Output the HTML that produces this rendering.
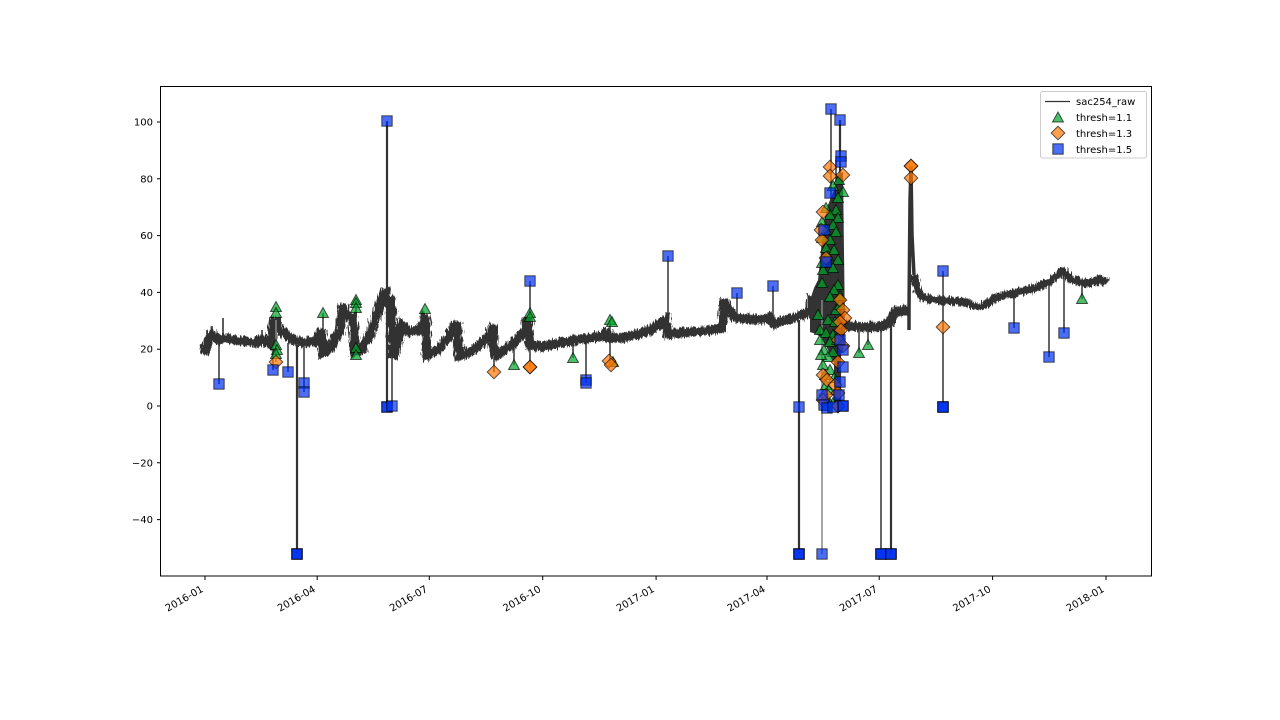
<!DOCTYPE html>
<html>
<head>
<meta charset="utf-8">
<style>
html,body{margin:0;padding:0;background:#fff;}
svg{display:block;}
text{font-family:"DejaVu Sans","Liberation Sans",sans-serif;font-size:10px;fill:#000;}
</style>
</head>
<body>
<svg width="1280" height="720" viewBox="0 0 1280 720" xmlns="http://www.w3.org/2000/svg">
<defs>
<filter id="n" filterUnits="userSpaceOnUse" x="150" y="80" width="1000" height="500">
<feTurbulence type="fractalNoise" baseFrequency="0.7 0.12" numOctaves="2" seed="3" result="t"/>
<feDisplacementMap in="SourceGraphic" in2="t" scale="8" xChannelSelector="R" yChannelSelector="G"/>
</filter>
<path id="t" d="M0,-5.5L-5.5,4.5L5.5,4.5Z" fill="#00a528" fill-opacity="0.7" stroke="#000" stroke-opacity="0.65" stroke-width="1"/>
<path id="d" d="M0,-6.8L6.8,0L0,6.8L-6.8,0Z" fill="#ff7805" fill-opacity="0.7" stroke="#000" stroke-opacity="0.65" stroke-width="1"/>
<rect id="s" x="-5.2" y="-5.2" width="10.4" height="10.4" fill="#0031f1" fill-opacity="0.7" stroke="#000" stroke-opacity="0.65" stroke-width="1"/>
</defs>
<rect width="1280" height="720" fill="#fff"/>

<!-- raw line -->
<g fill="none" stroke="#333" stroke-linejoin="miter" stroke-miterlimit="2" stroke-linecap="butt" filter="url(#n)">
<path stroke-width="9.5" d="M205,355 L207,343 L212,334 L218,340 L223,338 L225,338 L240,341 L255,343 L262,340 L270,344 L272,340 L273,322 L275,319 L280,330 L290,338 L300,342 L315,342 L322,330 L323,352 L330,348 L340,330 L343,305 L345,314 L353,318 L355,352 L362,350 L370,335 L380,305 L385,290 L388,300 L391,298 L393,358 L397,345 L402,325 L410,332 L420,330 L424,318 L426,320 L427,355 L440,348 L450,335 L457,322 L459,356 L470,352 L480,345 L490,335 L493,325 L494,357 L505,350 L515,342 L525,330 L528,318 L530,345 L545,346 L560,343 L575,340 L590,338 L603,336 L607,330 L609,338 L620,338 L635,335 L650,330 L663,322 L666,320 L668,334 L690,332 L710,330 L722,328 L724,300 L730,312 L737,318 L755,320 L770,318 L773,324 L790,319 L805,314 L810,310 L812,295"/>
<path stroke-width="9.5" d="M843,325 L860,327 L880,327 L890,322 L895,312 L905,311 L908,309"/>
<path stroke-width="8" d="M914,275 L917,290 L922,297 L935,300 L950,301 L965,302 L978,307 L985,305 L995,298 L1005,295 L1020,292 L1035,288 L1047,283 L1055,278 L1060,272 L1065,272 L1070,279 L1085,283 L1095,282 L1100,279 L1107,283"/>
</g>
<g fill="none" stroke="#333" stroke-linejoin="miter">
<path stroke-width="1.6" d="M223,340 L223,318 M207,350 L207,330 M212,340 L212,326 M262,344 L262,330"/>
<path stroke-width="3.5" d="M909,330 L909,310 L910,200 L911,166 L912,235 L914,275"/>
<path fill="#333" stroke="none" d="M810,332 L810,300 L814,288 L818,280 L820,262 L822,240 L824,222 L828,205 L834,190 L837,176 L843,172 L845,330 L843,352 L840,354 L839,406 L834,406 L834,362 L826,346 L822,338 L816,334 Z"/>
</g>

<!-- stems -->
<g stroke="#333" stroke-width="1.5" fill="none">
<path d="M219,340V384 M273,340V370 M288,343V372 M304,343V392 M323,330V313 M356,300V355 M392,300V406 M494,357V372 M514,345V365 M530,281V367 M573,343V358 M586,340V383 M610,320V365 M668,256V330 M737,293V318 M773,286V320 M859,328V353 M868,328V345 M881,327V554 M943,271V407 M1014,295V328 M1049,283V357 M1064,272V333 M1082,283V299 M831,109V330 M836,160V406"/>
<path stroke="#888" d="M276,320V362 M822,300V554"/>
<path stroke-width="2.2" d="M297,345V554 M387,121V407 M799,320V554 M891,322V554 M840,120V406"/>
</g>

<!-- thresh=1.1 triangles -->
<g>
<use href="#t" x="276" y="307"/><use href="#t" x="276" y="313"/><use href="#t" x="276" y="345"/><use href="#t" x="277" y="350"/><use href="#t" x="276" y="354"/>
<use href="#t" x="323" y="313"/>
<use href="#t" x="356" y="300"/><use href="#t" x="356" y="303"/><use href="#t" x="356" y="308"/><use href="#t" x="356" y="348"/><use href="#t" x="356" y="355"/>
<use href="#t" x="425" y="309"/>
<use href="#t" x="514" y="365"/>
<use href="#t" x="530" y="313"/><use href="#t" x="530" y="317"/>
<use href="#t" x="573" y="358"/>
<use href="#t" x="610" y="320"/><use href="#t" x="612" y="322"/><use href="#t" x="613" y="362"/>
<use href="#t" x="859" y="353"/><use href="#t" x="868" y="345"/>
<use href="#t" x="1082" y="299"/>
<use href="#t" x="839" y="180"/><use href="#t" x="833" y="186"/><use href="#t" x="843" y="192"/><use href="#t" x="838" y="198"/><use href="#t" x="826" y="208"/><use href="#t" x="836" y="210"/><use href="#t" x="830" y="215"/><use href="#t" x="838" y="218"/><use href="#t" x="822" y="222"/><use href="#t" x="833" y="225"/><use href="#t" x="826" y="230"/><use href="#t" x="836" y="232"/><use href="#t" x="822" y="238"/><use href="#t" x="830" y="240"/><use href="#t" x="826" y="248"/><use href="#t" x="834" y="250"/><use href="#t" x="828" y="256"/><use href="#t" x="822" y="263"/><use href="#t" x="838" y="260"/><use href="#t" x="823" y="270"/><use href="#t" x="833" y="268"/><use href="#t" x="822" y="283"/><use href="#t" x="838" y="285"/><use href="#t" x="834" y="290"/><use href="#t" x="830" y="297"/><use href="#t" x="840" y="296"/><use href="#t" x="818" y="315"/><use href="#t" x="836" y="310"/><use href="#t" x="840" y="305"/><use href="#t" x="828" y="320"/><use href="#t" x="835" y="322"/><use href="#t" x="820" y="330"/><use href="#t" x="826" y="333"/><use href="#t" x="833" y="335"/><use href="#t" x="820" y="340"/><use href="#t" x="830" y="342"/><use href="#t" x="837" y="340"/><use href="#t" x="824" y="350"/><use href="#t" x="833" y="352"/><use href="#t" x="828" y="357"/><use href="#t" x="821" y="355"/><use href="#t" x="823" y="365"/><use href="#t" x="830" y="370"/><use href="#t" x="825" y="375"/><use href="#t" x="834" y="378"/><use href="#t" x="826" y="385"/><use href="#t" x="829" y="390"/><use href="#t" x="828" y="400"/><use href="#t" x="827" y="406"/><use href="#t" x="833" y="403"/>
</g>

<!-- thresh=1.3 diamonds -->
<g>
<use href="#d" x="276" y="362"/>
<use href="#d" x="494" y="372"/>
<use href="#d" x="530" y="367"/><use href="#d" x="530" y="367"/>
<use href="#d" x="609" y="361"/><use href="#d" x="611" y="365"/>
<use href="#d" x="911" y="166"/><use href="#d" x="911" y="166"/><use href="#d" x="911" y="178"/>
<use href="#d" x="943" y="327"/>
<use href="#d" x="830" y="167"/><use href="#d" x="830" y="176"/><use href="#d" x="843" y="175"/><use href="#d" x="823" y="212"/><use href="#d" x="821" y="230"/><use href="#d" x="822" y="240"/><use href="#d" x="826" y="258"/><use href="#d" x="840" y="300"/><use href="#d" x="843" y="310"/><use href="#d" x="845" y="318"/><use href="#d" x="840" y="322"/><use href="#d" x="841" y="330"/><use href="#d" x="838" y="340"/><use href="#d" x="843" y="346"/><use href="#d" x="838" y="362"/><use href="#d" x="823" y="375"/><use href="#d" x="827" y="380"/><use href="#d" x="835" y="385"/><use href="#d" x="838" y="393"/><use href="#d" x="826" y="395"/><use href="#d" x="823" y="400"/><use href="#d" x="838" y="406"/><use href="#d" x="838" y="406"/>
</g>

<!-- thresh=1.5 squares -->
<g>
<use href="#s" x="219" y="384"/>
<use href="#s" x="273" y="370"/>
<use href="#s" x="288" y="372"/>
<use href="#s" x="304" y="383"/><use href="#s" x="304" y="392"/>
<use href="#s" x="297" y="554"/><use href="#s" x="297" y="554"/><use href="#s" x="297" y="554"/>
<use href="#s" x="387" y="121"/>
<use href="#s" x="387" y="407"/><use href="#s" x="387" y="407"/><use href="#s" x="392" y="406"/>
<use href="#s" x="530" y="281"/>
<use href="#s" x="586" y="380"/><use href="#s" x="586" y="383"/>
<use href="#s" x="668" y="256"/>
<use href="#s" x="737" y="293"/>
<use href="#s" x="773" y="286"/>
<use href="#s" x="799" y="407"/>
<use href="#s" x="799" y="554"/><use href="#s" x="799" y="554"/><use href="#s" x="799" y="554"/>
<use href="#s" x="822" y="554"/>
<use href="#s" x="881" y="554"/><use href="#s" x="881" y="554"/><use href="#s" x="881" y="554"/>
<use href="#s" x="891" y="554"/><use href="#s" x="891" y="554"/><use href="#s" x="891" y="554"/>
<use href="#s" x="943" y="271"/>
<use href="#s" x="943" y="407"/><use href="#s" x="943" y="407"/><use href="#s" x="943" y="407"/>
<use href="#s" x="1014" y="328"/>
<use href="#s" x="1049" y="357"/>
<use href="#s" x="1064" y="333"/>
<use href="#s" x="831" y="109"/><use href="#s" x="840" y="120"/><use href="#s" x="841" y="156"/><use href="#s" x="841" y="162"/><use href="#s" x="830" y="193"/><use href="#s" x="824" y="230"/><use href="#s" x="826" y="262"/><use href="#s" x="840" y="340"/><use href="#s" x="843" y="350"/><use href="#s" x="843" y="367"/><use href="#s" x="840" y="382"/><use href="#s" x="839" y="395"/><use href="#s" x="822" y="395"/><use href="#s" x="824" y="405"/><use href="#s" x="827" y="408"/><use href="#s" x="843" y="406"/><use href="#s" x="843" y="406"/><use href="#s" x="833" y="407"/>
</g>

<!-- axes frame -->
<rect x="160.5" y="86.5" width="991" height="489.5" fill="none" stroke="#000" stroke-width="1"/>

<!-- ticks -->
<g stroke="#000" stroke-width="1">
<path d="M157,122H160 M157,178.8H160 M157,235.6H160 M157,292.4H160 M157,349.2H160 M157,406H160 M157,462.8H160 M157,519.6H160"/>
<path d="M205,576V580 M317.2,576V580 M429.3,576V580 M542.7,576V580 M656.1,576V580 M767,576V580 M879.2,576V580 M992.6,576V580 M1106,576V580"/>
</g>
<g text-anchor="end">
<text x="153" y="125.5">100</text>
<text x="153" y="182.3">80</text>
<text x="153" y="239.1">60</text>
<text x="153" y="295.9">40</text>
<text x="153" y="352.7">20</text>
<text x="153" y="409.5">0</text>
<text x="153" y="466.3">−20</text>
<text x="153" y="523.1">−40</text>
</g>
<g text-anchor="end">
<text transform="translate(204,591) rotate(-30)">2016-01</text>
<text transform="translate(316.2,591) rotate(-30)">2016-04</text>
<text transform="translate(428.3,591) rotate(-30)">2016-07</text>
<text transform="translate(541.7,591) rotate(-30)">2016-10</text>
<text transform="translate(655.1,591) rotate(-30)">2017-01</text>
<text transform="translate(766,591) rotate(-30)">2017-04</text>
<text transform="translate(878.2,591) rotate(-30)">2017-07</text>
<text transform="translate(991.6,591) rotate(-30)">2017-10</text>
<text transform="translate(1105,591) rotate(-30)">2018-01</text>
</g>

<!-- legend -->
<rect x="1040.5" y="91.5" width="106" height="66.5" rx="2" ry="2" fill="#fff" fill-opacity="0.8" stroke="#ccc" stroke-width="1"/>
<path d="M1045,101.5H1070" stroke="#333" stroke-width="1.2"/>
<use href="#t" x="1058" y="117.5"/>
<use href="#d" x="1058" y="133"/>
<use href="#s" x="1058" y="149"/>
<text x="1076" y="105">sac254_raw</text>
<text x="1076" y="121">thresh=1.1</text>
<text x="1076" y="137">thresh=1.3</text>
<text x="1076" y="153">thresh=1.5</text>
</svg>
</body>
</html>
